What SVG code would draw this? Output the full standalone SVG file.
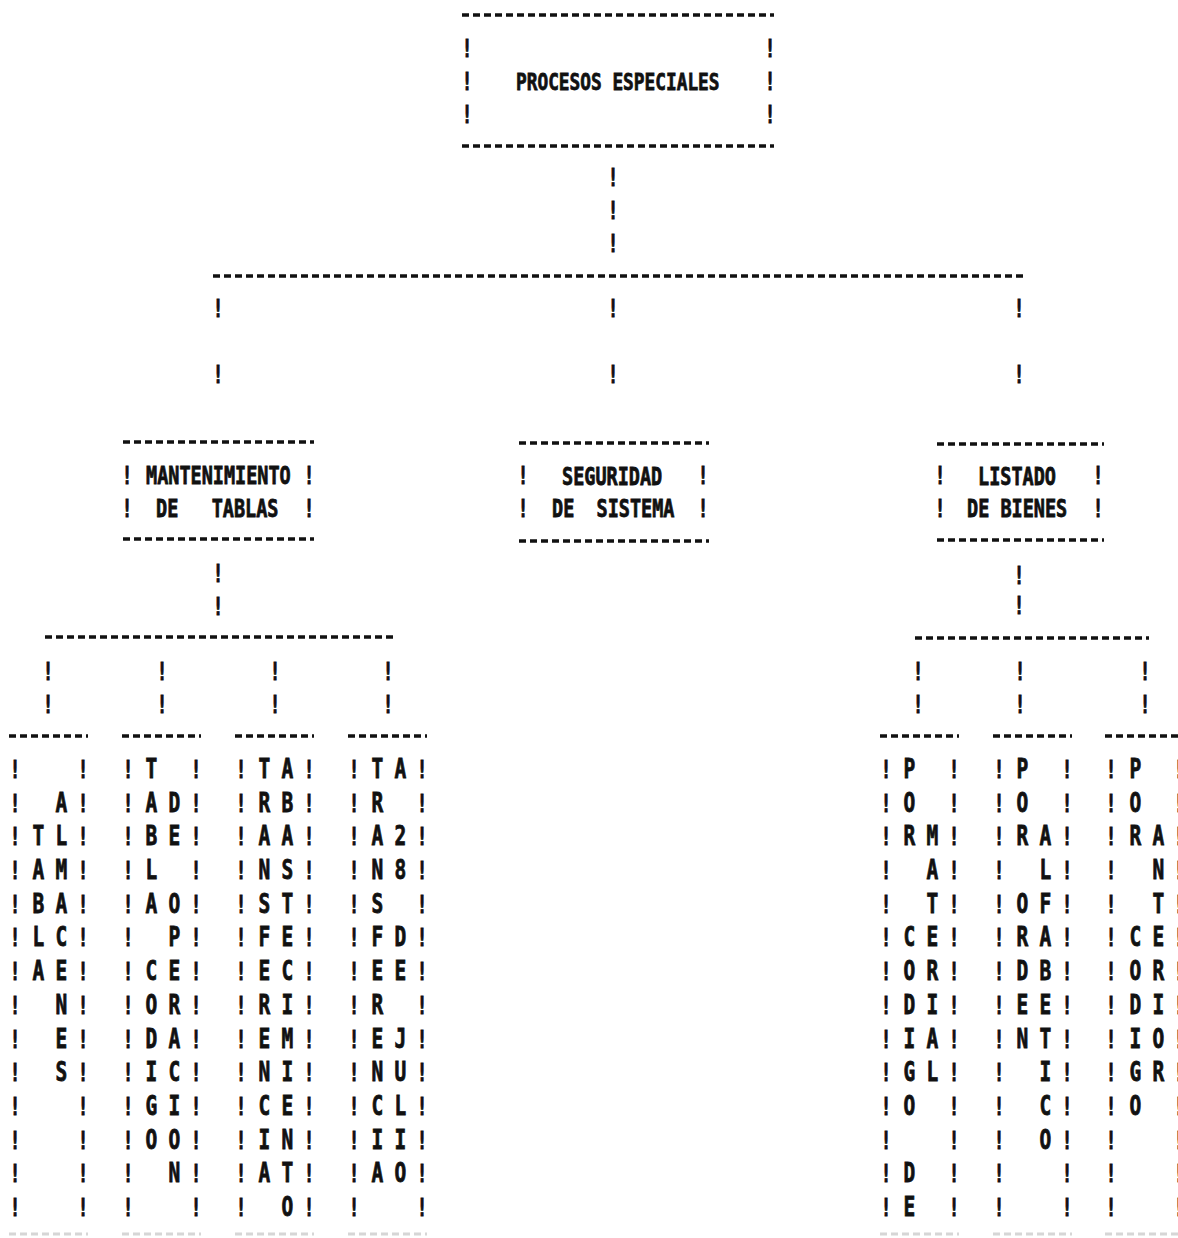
<svg xmlns="http://www.w3.org/2000/svg" xmlns:xlink="http://www.w3.org/1999/xlink" width="1178" height="1238" viewBox="0 0 1178 1238">
<style>
.m{font-family:"DejaVu Sans Mono","Liberation Mono",monospace;font-weight:bold;font-size:18.5px;fill:#111;stroke:#111;stroke-width:0.6;white-space:pre;}
.c{text-anchor:middle;}
.p{font-size:17.8px;}
.l{font-size:19.5px;}
.d{stroke:#111;stroke-width:3.5;stroke-dasharray:7 4;fill:none;}
.f{stroke:#d6d6d6;stroke-width:3;stroke-dasharray:7 4;fill:none;}
</style>
<defs>
<g id="col">
<text class="m c" x="0" y="583.5">!</text><text class="m c" x="0" y="609">!</text><text class="m c" x="0" y="633.75">!</text><text class="m c" x="0" y="659.25">!</text><text class="m c" x="0" y="684.75">!</text><text class="m c" x="0" y="709.5">!</text><text class="m c" x="0" y="735">!</text><text class="m c" x="0" y="760.5">!</text><text class="m c" x="0" y="786">!</text><text class="m c" x="0" y="810.75">!</text><text class="m c" x="0" y="836.25">!</text><text class="m c" x="0" y="861.75">!</text><text class="m c" x="0" y="886.5">!</text><text class="m c" x="0" y="912">!</text>
</g>
<g id="leafbox">
<line class="d" x1="-6" y1="736" x2="73" y2="736"/>
<line class="f" x1="-6" y1="1234" x2="73" y2="1234"/>
<g transform="scale(1,1.3333333)">
<use xlink:href="#col" x="0"/>
<use xlink:href="#col" x="68"/>
</g>
</g>
</defs>
<rect width="1178" height="1238" fill="#fff"/>

<g id="connectors">
<line class="d" x1="213" y1="276" x2="1023" y2="276"/>
<line class="d" x1="45" y1="637" x2="394" y2="637"/>
<line class="d" x1="915" y1="638" x2="1149" y2="638"/>
<g transform="scale(1,1.3333333)">
<text class="m c" x="613" y="139.5">!</text><text class="m c" x="613" y="164.25">!</text><text class="m c" x="613" y="189">!</text>
<text class="m c" x="218" y="237.75">!</text><text class="m c" x="218" y="287.25">!</text>
<text class="m c" x="613" y="237.75">!</text><text class="m c" x="613" y="287.25">!</text>
<text class="m c" x="1019" y="237.75">!</text><text class="m c" x="1019" y="287.25">!</text>
<text class="m c" x="218" y="436.5">!</text><text class="m c" x="218" y="461.25">!</text>
<text class="m c" x="48" y="510">!</text><text class="m c" x="48" y="534.75">!</text>
<text class="m c" x="162" y="510">!</text><text class="m c" x="162" y="534.75">!</text>
<text class="m c" x="275" y="510">!</text><text class="m c" x="275" y="534.75">!</text>
<text class="m c" x="388" y="510">!</text><text class="m c" x="388" y="534.75">!</text>
<text class="m c" x="1019" y="438">!</text><text class="m c" x="1019" y="460.5">!</text>
<text class="m c" x="918" y="510">!</text><text class="m c" x="918" y="534.75">!</text>
<text class="m c" x="1020" y="510">!</text><text class="m c" x="1020" y="534.75">!</text>
<text class="m c" x="1145" y="510">!</text><text class="m c" x="1145" y="534.75">!</text>
</g>
</g>

<g id="procesos-especiales">
<line class="d" x1="462" y1="15" x2="774" y2="15"/>
<line class="d" x1="462" y1="146" x2="774" y2="146"/>
<g transform="scale(1,1.3333333)">
<text class="m c" x="467" y="42.75">!</text><text class="m c" x="467" y="67.5">!</text><text class="m c" x="467" y="92.25">!</text>
<text class="m c" x="770" y="42.75">!</text><text class="m c" x="770" y="67.5">!</text><text class="m c" x="770" y="92.25">!</text>
<text class="m p" x="516" y="67.5">PROCESOS ESPECIALES</text>
</g>
</g>

<g id="mantenimiento-de-tablas">
<line class="d" x1="123" y1="442" x2="314" y2="442"/>
<line class="d" x1="123" y1="539" x2="314" y2="539"/>
<g transform="scale(1,1.3333333)">
<text class="m c" x="127" y="363">!</text><text class="m c" x="127" y="387.75">!</text>
<text class="m c" x="309" y="363">!</text><text class="m c" x="309" y="387.75">!</text>
<text class="m" x="146" y="363">MANTENIMIENTO</text>
<text class="m" x="156" y="387.75" xml:space="preserve">DE   TABLAS</text>
</g>
</g>

<g id="seguridad-de-sistema">
<line class="d" x1="519" y1="443" x2="709" y2="443"/>
<line class="d" x1="519" y1="541" x2="709" y2="541"/>
<g transform="scale(1,1.3333333)">
<text class="m c" x="523" y="363">!</text><text class="m c" x="523" y="387.75">!</text>
<text class="m c" x="703" y="363">!</text><text class="m c" x="703" y="387.75">!</text>
<text class="m" x="562" y="363.75">SEGURIDAD</text>
<text class="m" x="552" y="387.75" xml:space="preserve">DE  SISTEMA</text>
</g>
</g>

<g id="listado-de-bienes">
<line class="d" x1="937" y1="444" x2="1104" y2="444"/>
<line class="d" x1="937" y1="540" x2="1104" y2="540"/>
<g transform="scale(1,1.3333333)">
<text class="m c" x="940" y="363">!</text><text class="m c" x="940" y="387.75">!</text>
<text class="m c" x="1098" y="363">!</text><text class="m c" x="1098" y="387.75">!</text>
<text class="m" x="978" y="363.75">LISTADO</text>
<text class="m" x="967" y="387.75">DE BIENES</text>
</g>
</g>

<g id="tabla-almacenes">
<use xlink:href="#leafbox" x="15"/>
<g transform="scale(1,1.3333333)">
<text class="m c l" x="61.5" y="609">A</text>
<text class="m c l" x="38.5" y="633.75">T</text><text class="m c l" x="61.5" y="633.75">L</text>
<text class="m c l" x="38.5" y="659.25">A</text><text class="m c l" x="61.5" y="659.25">M</text>
<text class="m c l" x="38.5" y="684.75">B</text><text class="m c l" x="61.5" y="684.75">A</text>
<text class="m c l" x="38.5" y="709.5">L</text><text class="m c l" x="61.5" y="709.5">C</text>
<text class="m c l" x="38.5" y="735">A</text><text class="m c l" x="61.5" y="735">E</text>
<text class="m c l" x="61.5" y="760.5">N</text>
<text class="m c l" x="61.5" y="786">E</text>
<text class="m c l" x="61.5" y="810.75">S</text>
</g>
</g>

<g id="tabla-codigo-de-operacion">
<use xlink:href="#leafbox" x="128"/>
<g transform="scale(1,1.3333333)">
<text class="m c l" x="151.5" y="583.5">T</text>
<text class="m c l" x="151.5" y="609">A</text><text class="m c l" x="174.5" y="609">D</text>
<text class="m c l" x="151.5" y="633.75">B</text><text class="m c l" x="174.5" y="633.75">E</text>
<text class="m c l" x="151.5" y="659.25">L</text>
<text class="m c l" x="151.5" y="684.75">A</text><text class="m c l" x="174.5" y="684.75">O</text>
<text class="m c l" x="174.5" y="709.5">P</text>
<text class="m c l" x="151.5" y="735">C</text><text class="m c l" x="174.5" y="735">E</text>
<text class="m c l" x="151.5" y="760.5">O</text><text class="m c l" x="174.5" y="760.5">R</text>
<text class="m c l" x="151.5" y="786">D</text><text class="m c l" x="174.5" y="786">A</text>
<text class="m c l" x="151.5" y="810.75">I</text><text class="m c l" x="174.5" y="810.75">C</text>
<text class="m c l" x="151.5" y="836.25">G</text><text class="m c l" x="174.5" y="836.25">I</text>
<text class="m c l" x="151.5" y="861.75">O</text><text class="m c l" x="174.5" y="861.75">O</text>
<text class="m c l" x="174.5" y="886.5">N</text>
</g>
</g>

<g id="transferencia-abastecimiento">
<use xlink:href="#leafbox" x="241"/>
<g transform="scale(1,1.3333333)">
<text class="m c l" x="264.5" y="583.5">T</text><text class="m c l" x="287.5" y="583.5">A</text>
<text class="m c l" x="264.5" y="609">R</text><text class="m c l" x="287.5" y="609">B</text>
<text class="m c l" x="264.5" y="633.75">A</text><text class="m c l" x="287.5" y="633.75">A</text>
<text class="m c l" x="264.5" y="659.25">N</text><text class="m c l" x="287.5" y="659.25">S</text>
<text class="m c l" x="264.5" y="684.75">S</text><text class="m c l" x="287.5" y="684.75">T</text>
<text class="m c l" x="264.5" y="709.5">F</text><text class="m c l" x="287.5" y="709.5">E</text>
<text class="m c l" x="264.5" y="735">E</text><text class="m c l" x="287.5" y="735">C</text>
<text class="m c l" x="264.5" y="760.5">R</text><text class="m c l" x="287.5" y="760.5">I</text>
<text class="m c l" x="264.5" y="786">E</text><text class="m c l" x="287.5" y="786">M</text>
<text class="m c l" x="264.5" y="810.75">N</text><text class="m c l" x="287.5" y="810.75">I</text>
<text class="m c l" x="264.5" y="836.25">C</text><text class="m c l" x="287.5" y="836.25">E</text>
<text class="m c l" x="264.5" y="861.75">I</text><text class="m c l" x="287.5" y="861.75">N</text>
<text class="m c l" x="264.5" y="886.5">A</text><text class="m c l" x="287.5" y="886.5">T</text>
<text class="m c l" x="287.5" y="912">O</text>
</g>
</g>

<g id="transferencia-a-28-de-julio">
<use xlink:href="#leafbox" x="354"/>
<g transform="scale(1,1.3333333)">
<text class="m c l" x="377.5" y="583.5">T</text><text class="m c l" x="400.5" y="583.5">A</text>
<text class="m c l" x="377.5" y="609">R</text>
<text class="m c l" x="377.5" y="633.75">A</text><text class="m c l" x="400.5" y="633.75">2</text>
<text class="m c l" x="377.5" y="659.25">N</text><text class="m c l" x="400.5" y="659.25">8</text>
<text class="m c l" x="377.5" y="684.75">S</text>
<text class="m c l" x="377.5" y="709.5">F</text><text class="m c l" x="400.5" y="709.5">D</text>
<text class="m c l" x="377.5" y="735">E</text><text class="m c l" x="400.5" y="735">E</text>
<text class="m c l" x="377.5" y="760.5">R</text>
<text class="m c l" x="377.5" y="786">E</text><text class="m c l" x="400.5" y="786">J</text>
<text class="m c l" x="377.5" y="810.75">N</text><text class="m c l" x="400.5" y="810.75">U</text>
<text class="m c l" x="377.5" y="836.25">C</text><text class="m c l" x="400.5" y="836.25">L</text>
<text class="m c l" x="377.5" y="861.75">I</text><text class="m c l" x="400.5" y="861.75">I</text>
<text class="m c l" x="377.5" y="886.5">A</text><text class="m c l" x="400.5" y="886.5">O</text>
</g>
</g>

<g id="por-codigo-de-material">
<use xlink:href="#leafbox" x="886"/>
<g transform="scale(1,1.3333333)">
<text class="m c l" x="909.5" y="583.5">P</text>
<text class="m c l" x="909.5" y="609">O</text>
<text class="m c l" x="909.5" y="633.75">R</text><text class="m c l" x="932.5" y="633.75">M</text>
<text class="m c l" x="932.5" y="659.25">A</text>
<text class="m c l" x="932.5" y="684.75">T</text>
<text class="m c l" x="909.5" y="709.5">C</text><text class="m c l" x="932.5" y="709.5">E</text>
<text class="m c l" x="909.5" y="735">O</text><text class="m c l" x="932.5" y="735">R</text>
<text class="m c l" x="909.5" y="760.5">D</text><text class="m c l" x="932.5" y="760.5">I</text>
<text class="m c l" x="909.5" y="786">I</text><text class="m c l" x="932.5" y="786">A</text>
<text class="m c l" x="909.5" y="810.75">G</text><text class="m c l" x="932.5" y="810.75">L</text>
<text class="m c l" x="909.5" y="836.25">O</text>
<text class="m c l" x="909.5" y="886.5">D</text>
<text class="m c l" x="909.5" y="912">E</text>
</g>
</g>

<g id="por-orden-alfabetico">
<use xlink:href="#leafbox" x="999"/>
<g transform="scale(1,1.3333333)">
<text class="m c l" x="1022.5" y="583.5">P</text>
<text class="m c l" x="1022.5" y="609">O</text>
<text class="m c l" x="1022.5" y="633.75">R</text><text class="m c l" x="1045.5" y="633.75">A</text>
<text class="m c l" x="1045.5" y="659.25">L</text>
<text class="m c l" x="1022.5" y="684.75">O</text><text class="m c l" x="1045.5" y="684.75">F</text>
<text class="m c l" x="1022.5" y="709.5">R</text><text class="m c l" x="1045.5" y="709.5">A</text>
<text class="m c l" x="1022.5" y="735">D</text><text class="m c l" x="1045.5" y="735">B</text>
<text class="m c l" x="1022.5" y="760.5">E</text><text class="m c l" x="1045.5" y="760.5">E</text>
<text class="m c l" x="1022.5" y="786">N</text><text class="m c l" x="1045.5" y="786">T</text>
<text class="m c l" x="1045.5" y="810.75">I</text>
<text class="m c l" x="1045.5" y="836.25">C</text>
<text class="m c l" x="1045.5" y="861.75">O</text>
</g>
</g>

<g id="por-codigo-anterior">
<use xlink:href="#leafbox" x="1111"/>
<g transform="scale(1,1.3333333)">
<text class="m c l" x="1135.5" y="583.5">P</text>
<text class="m c l" x="1135.5" y="609">O</text>
<text class="m c l" x="1135.5" y="633.75">R</text><text class="m c l" x="1158.5" y="633.75">A</text>
<text class="m c l" x="1158.5" y="659.25">N</text>
<text class="m c l" x="1158.5" y="684.75">T</text>
<text class="m c l" x="1135.5" y="709.5">C</text><text class="m c l" x="1158.5" y="709.5">E</text>
<text class="m c l" x="1135.5" y="735">O</text><text class="m c l" x="1158.5" y="735">R</text>
<text class="m c l" x="1135.5" y="760.5">D</text><text class="m c l" x="1158.5" y="760.5">I</text>
<text class="m c l" x="1135.5" y="786">I</text><text class="m c l" x="1158.5" y="786">O</text>
<text class="m c l" x="1135.5" y="810.75">G</text><text class="m c l" x="1158.5" y="810.75">R</text>
<text class="m c l" x="1135.5" y="836.25">O</text>
</g>
</g>
</svg>
